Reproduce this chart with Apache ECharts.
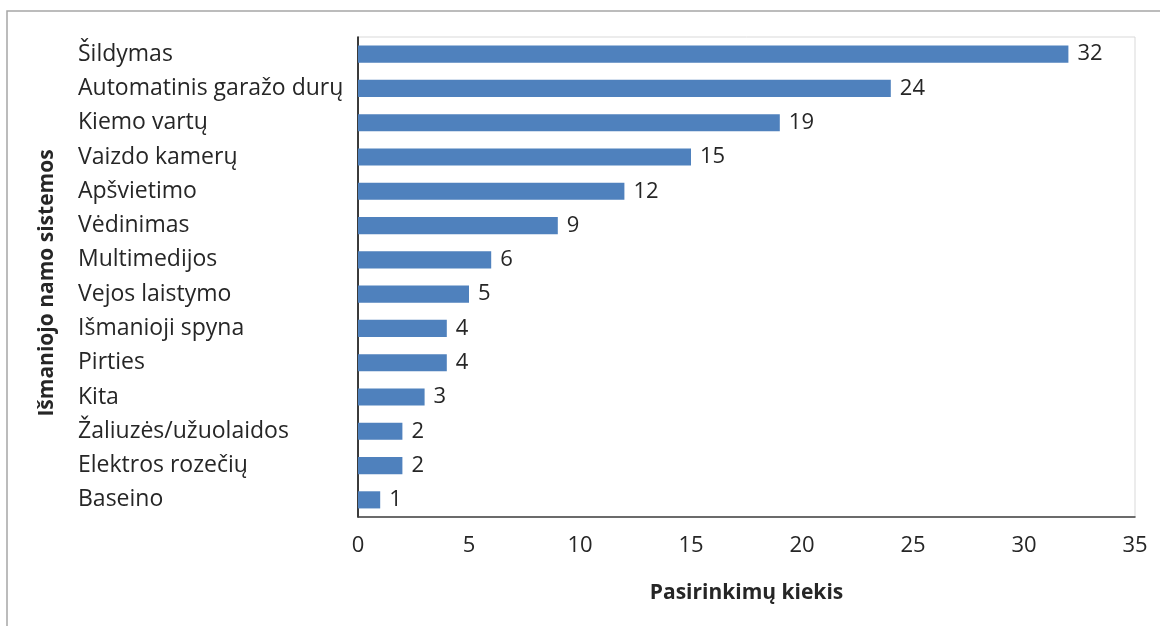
<!DOCTYPE html>
<html>
<head>
<meta charset="utf-8">
<script src="https://cdn.jsdelivr.net/npm/echarts@6/dist/echarts.min.js"></script>
<style>
  html, body { margin: 0; padding: 0; background: #fff; }
  #chart { width: 1160px; height: 626px; }
</style>
</head>
<body>
<div id="chart"></div>
<script>
// Smart-home systems chosen by respondents (top to bottom)
const categories = [
  'Šildymas', 'Automatinis garažo durų', 'Kiemo vartų', 'Vaizdo kamerų',
  'Apšvietimo', 'Vėdinimas', 'Multimedijos', 'Vejos laistymo',
  'Išmanioji spyna', 'Pirties', 'Kita', 'Žaliuzės/užuolaidos',
  'Elektros rozečių', 'Baseino'
];
const counts = [32, 24, 19, 15, 12, 9, 6, 5, 4, 4, 3, 2, 2, 1];
const xTicks = { min: 0, max: 35, step: 5 };
const yAxisTitle = 'Išmaniojo namo sistemos';
const xAxisTitle = 'Pasirinkimų kiekis';

const FONT = 'Open Sans';
const TEXT = '#262626';

const chart = echarts.init(document.getElementById('chart'), null, { renderer: 'canvas' });
chart.setOption({
  animation: false,
  backgroundColor: '#fff',
  grid: { left: 358, right: 25, top: 37, bottom: 109, show: true, borderColor: '#d9d9d9', borderWidth: 1 },
  graphic: [
    { type: 'rect', shape: { x: 7, y: 11, width: 1200, height: 700 },
      style: { fill: 'none', stroke: '#a6a6a6', lineWidth: 1.5 }, silent: true },
    { type: 'text', x: 47, y: 283, rotation: Math.PI / 2,
      style: { text: yAxisTitle, font: 'bold 21px "' + FONT + '"', fill: TEXT,
               align: 'center', verticalAlign: 'middle' } }
  ],
  xAxis: {
    type: 'value', min: xTicks.min, max: xTicks.max, interval: xTicks.step,
    axisLine: { show: true, lineStyle: { color: '#404040', width: 1.5 } },
    axisTick: { show: false },
    splitLine: { show: false },
    axisLabel: { color: TEXT, fontFamily: FONT, fontSize: 22, margin: 18 },
    name: xAxisTitle, nameLocation: 'middle', nameGap: 66,
    nameTextStyle: { color: TEXT, fontFamily: FONT, fontSize: 21, fontWeight: 'bold' }
  },
  yAxis: {
    type: 'category', data: categories, inverse: true,
    axisLine: { show: true, lineStyle: { color: '#000', width: 1.5 } },
    axisTick: { show: false },
    axisLabel: { color: TEXT, fontFamily: FONT, fontSize: 23, align: 'left', margin: 280 }
  },
  series: [{
    type: 'bar', data: counts, barWidth: '50%',
    itemStyle: { color: '#4f81bd' },
    label: { show: true, position: 'right', distance: 9, color: TEXT, fontFamily: FONT, fontSize: 22 }
  }]
});
</script>
</body>
</html>
